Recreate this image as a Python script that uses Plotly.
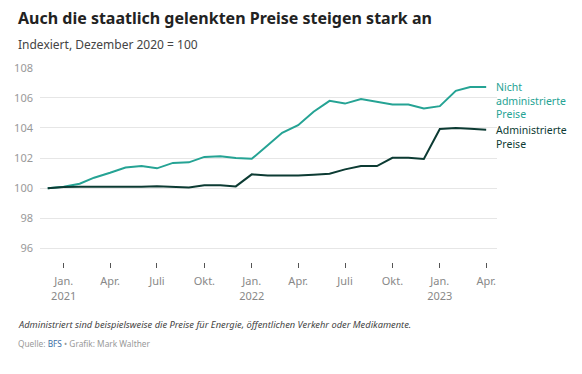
import plotly.graph_objects as go

months = ["2020-12-01","2021-01-01","2021-02-01","2021-03-01","2021-04-01","2021-05-01","2021-06-01",
          "2021-07-01","2021-08-01","2021-09-01","2021-10-01","2021-11-01","2021-12-01",
          "2022-01-01","2022-02-01","2022-03-01","2022-04-01","2022-05-01","2022-06-01",
          "2022-07-01","2022-08-01","2022-09-01","2022-10-01","2022-11-01","2022-12-01",
          "2023-01-01","2023-02-01","2023-03-01","2023-04-01"]

nicht_admin = [100.0, 100.1, 100.3, 100.7, 101.03, 101.38, 101.47, 101.32, 101.68, 101.72, 102.08, 102.12, 102.0,
               101.95, 102.85, 103.68, 104.18, 105.08, 105.8, 105.62, 105.93, 105.72, 105.56, 105.56, 105.3,
               105.45, 106.47, 106.72, 106.73]

admin = [100.0, 100.08, 100.1, 100.1, 100.06, 100.06, 100.1, 100.13, 100.08, 100.05, 100.19, 100.2, 100.12,
         100.92, 100.85, 100.83, 100.85, 100.9, 100.96, 101.25, 101.47, 101.47, 102.02, 102.02, 101.94,
         103.93, 104.0, 103.95, 103.88]

tick_vals = ["2021-01-01","2021-04-01","2021-07-01","2021-10-01","2022-01-01","2022-04-01",
             "2022-07-01","2022-10-01","2023-01-01","2023-04-01"]
tick_text = ["Jan.<br>2021","Apr.","Juli","Okt.","Jan.<br>2022","Apr.","Juli","Okt.","Jan.<br>2023","Apr."]
y_ticks = [96, 98, 100, 102, 104, 106, 108]

teal = "#25a394"
dark = "#0c3b33"
font = "Noto Sans"

fig = go.Figure()
fig.add_trace(go.Scatter(x=months, y=nicht_admin, mode="lines", line=dict(color=teal, width=2),
                         name="Nicht administrierte Preise", hoverinfo="skip"))
fig.add_trace(go.Scatter(x=months, y=admin, mode="lines", line=dict(color=dark, width=2),
                         name="Administrierte Preise", hoverinfo="skip"))

fig.add_annotation(x=months[-1], y=nicht_admin[-1], text="Nicht<br>administrierte<br>Preise",
                   xanchor="left", yanchor="top", xshift=8, yshift=9, showarrow=False, align="left",
                   font=dict(family=font, size=10.5, color=teal))
fig.add_annotation(x=months[-1], y=admin[-1], text="Administrierte<br>Preise",
                   xanchor="left", yanchor="top", xshift=8, yshift=9, showarrow=False, align="left",
                   font=dict(family=font, size=10.5, color=dark))

fig.add_annotation(xref="paper", yref="paper", x=-0.053, y=1.0, yshift=36, xanchor="left", yanchor="bottom",
                   text="<b>Auch die staatlich gelenkten Preise steigen stark an</b>", showarrow=False,
                   font=dict(family=font, size=16, color="#222"))
fig.add_annotation(xref="paper", yref="paper", x=-0.053, y=1.0, yshift=12, xanchor="left", yanchor="bottom",
                   text="Indexiert, Dezember 2020 = 100", showarrow=False,
                   font=dict(family=font, size=12, color="#444"))
fig.add_annotation(xref="paper", yref="paper", x=-0.053, y=0, yshift=-71, xanchor="left", yanchor="bottom",
                   text="<i>Administriert sind beispielsweise die Preise für Energie, öffentlichen Verkehr oder Medikamente.</i>",
                   showarrow=False, font=dict(family=font, size=9.3, color="#444"))
fig.add_annotation(xref="paper", yref="paper", x=-0.053, y=0, yshift=-89, xanchor="left", yanchor="bottom",
                   text="Quelle: <span style='color:#3b6ea5'>BFS</span> • Grafik: Mark Walther",
                   showarrow=False, font=dict(family=font, size=8.3, color="#999"))

# page body has an 8px default margin; figure sized to fit the 582x374 window
fig.update_layout(
    width=574, height=366,
    margin=dict(l=32, r=85, t=59, b=112, autoexpand=False),
    paper_bgcolor="white", plot_bgcolor="white",
    showlegend=False,
    font=dict(family=font),
    xaxis=dict(type="date", range=["2020-11-16", "2023-04-22"], tickvals=tick_vals, ticktext=tick_text,
               showgrid=False, zeroline=False, showline=False, ticks="outside", ticklen=5, tickwidth=1,
               tickcolor="#555", tickfont=dict(family=font, size=11, color="#888"), automargin=False,
               ticklabelstandoff=4),
    yaxis=dict(range=[95.1, 108.05], tickvals=y_ticks, showgrid=True, gridcolor="#e6e6e6", gridwidth=1,
               zeroline=False, showline=False, ticks="", tickfont=dict(family=font, size=11, color="#999"),
               ticklabelstandoff=6, automargin=False),
)

fig.write_html("out.html")
